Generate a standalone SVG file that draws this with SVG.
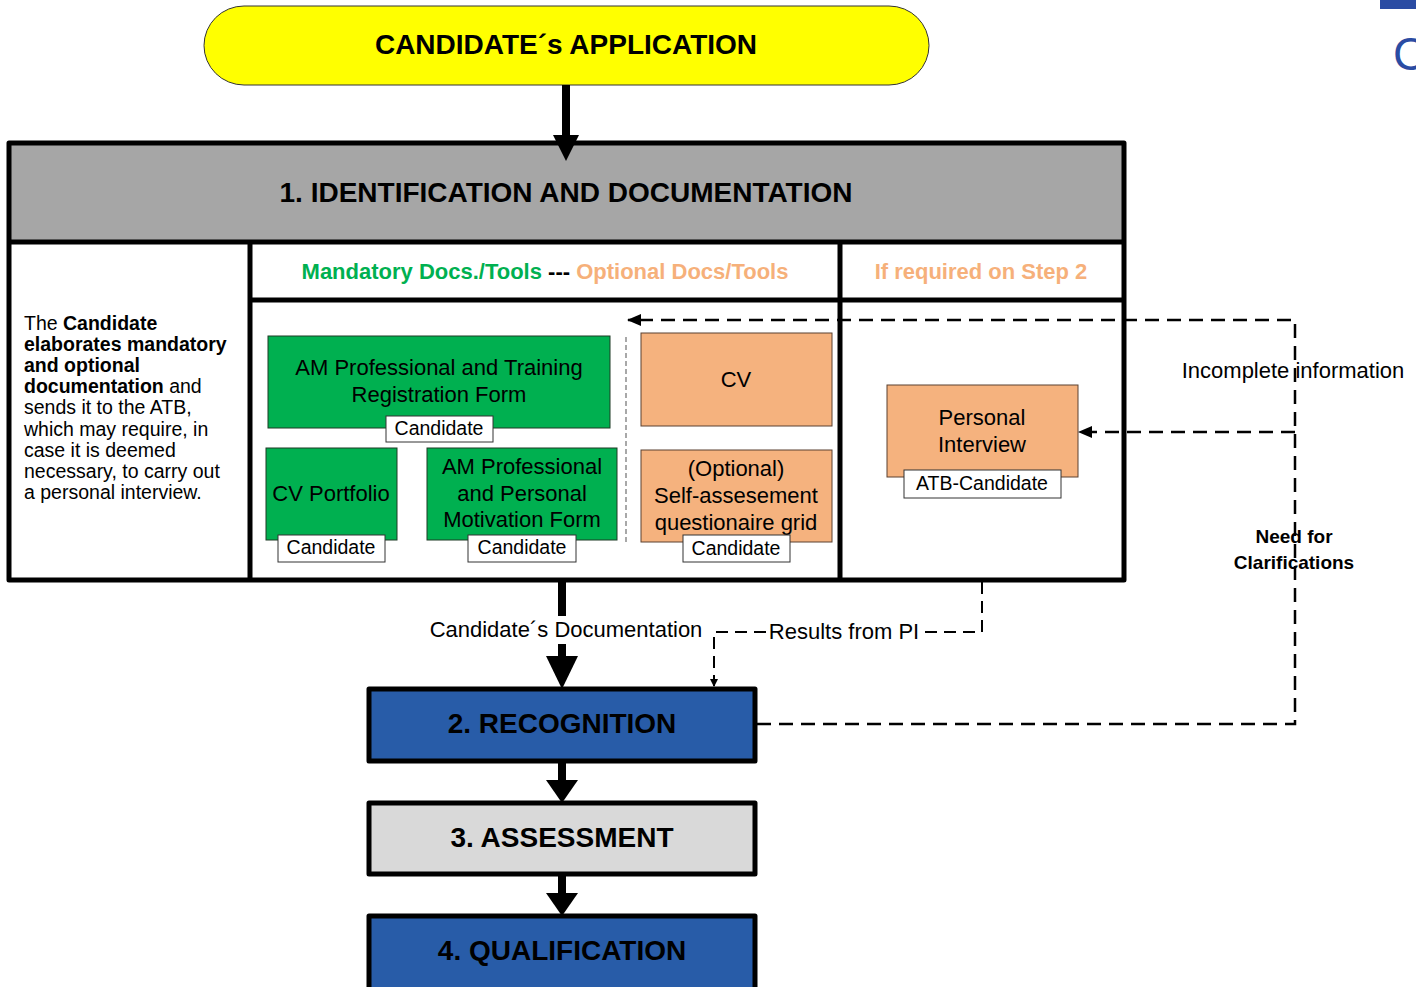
<svg xmlns="http://www.w3.org/2000/svg" width="1416" height="987" viewBox="0 0 1416 987">
  <style>
    text { font-family: "Liberation Sans", Arial, sans-serif; fill: #000; }
    .c { text-anchor: middle; }
    .b { font-weight: bold; }
    .title { font-size: 28px; font-weight: bold; text-anchor: middle; }
    .doc { font-size: 22px; text-anchor: middle; }
    .tag { font-size: 19.5px; text-anchor: middle; }
    .frame { fill: none; stroke: #000; stroke-width: 5; stroke-linejoin: round; }
    .green { fill: #00b050; stroke: #1c3b24; stroke-width: 1; }
    .orange { fill: #f5b27e; stroke: #5a4030; stroke-width: 1; }
    .tagbox { fill: #fff; stroke: #333; stroke-width: 1; }
    .thick { stroke: #000; stroke-width: 8; fill: none; }
    .dash { stroke: #000; stroke-width: 2.5; fill: none; stroke-dasharray: 14 8; }
    .dash2 { stroke: #000; stroke-width: 2; fill: none; stroke-dasharray: 12 7; }
  </style>
  <defs>
    <marker id="headSmall" markerWidth="8" markerHeight="8" refX="7" refY="4" orient="auto" markerUnits="userSpaceOnUse">
      <path d="M0,0 L8,4 L0,8 Z" fill="#000"/>
    </marker>
    <marker id="headMid" markerWidth="14" markerHeight="12" refX="13" refY="6" orient="auto" markerUnits="userSpaceOnUse">
      <path d="M0,0 L14,6 L0,12 Z" fill="#000"/>
    </marker>
  </defs>

  <rect width="1416" height="987" fill="#fff"/>

  <!-- page furniture at the top-right edge -->
  <rect x="1380" y="0" width="36" height="9" fill="#2b4ca3"/>
  <text x="1393" y="70" font-size="46" fill="#2b4ca3" style="fill:#2b4ca3">C</text>

  <!-- start node -->
  <g id="application">
    <rect x="204" y="6" width="725" height="79" rx="40" ry="40" fill="#ffff00" stroke="#333" stroke-width="1"/>
    <text class="title" x="566" y="54">CANDIDATE´s APPLICATION</text>
  </g>

  <!-- step 1 frame -->
  <g id="step1">
    <rect x="9" y="143" width="1115" height="99" fill="#a6a6a6"/>
    <rect x="9" y="242" width="1115" height="338" fill="#fff"/>
    <text class="title" x="566" y="202">1. IDENTIFICATION AND DOCUMENTATION</text>
    <rect class="frame" x="9" y="143" width="1115" height="437"/>
    <line x1="9" y1="242" x2="1124" y2="242" stroke="#000" stroke-width="5"/>
    <line x1="250" y1="242" x2="250" y2="580" stroke="#000" stroke-width="5"/>
    <line x1="840" y1="242" x2="840" y2="580" stroke="#000" stroke-width="5"/>
    <line x1="250" y1="300" x2="1124" y2="300" stroke="#000" stroke-width="5"/>
    <text x="545" y="279" font-size="22" class="c b"><tspan style="fill:#00b050">Mandatory Docs./Tools</tspan> --- <tspan style="fill:#f6b07a">Optional Docs/Tools</tspan></text>
    <text x="981" y="279" font-size="22" class="c b" style="fill:#f6b07a">If required on Step 2</text>
    <line x1="626" y1="337" x2="626" y2="543" stroke="#8c8c8c" stroke-width="1.5" stroke-dasharray="5 3"/>
  </g>

  <!-- explanation text -->
  <g id="step1-note" font-size="19.5">
    <text x="24" y="330">The <tspan class="b">Candidate</tspan></text>
    <text x="24" y="351" class="b">elaborates mandatory</text>
    <text x="24" y="372" class="b">and optional</text>
    <text x="24" y="393"><tspan class="b">documentation</tspan> and</text>
    <text x="24" y="414">sends it to the ATB,</text>
    <text x="24" y="436">which may require, in</text>
    <text x="24" y="457">case it is deemed</text>
    <text x="24" y="478">necessary, to carry out</text>
    <text x="24" y="499">a personal interview.</text>
  </g>

  <!-- mandatory documents -->
  <g id="doc-registration">
    <rect class="green" x="268" y="336" width="342" height="92"/>
    <text class="doc" x="439" y="375">AM Professional and Training</text>
    <text class="doc" x="439" y="402">Registration Form</text>
    <rect class="tagbox" x="386" y="416" width="107" height="26"/>
    <text class="tag" x="439" y="435">Candidate</text>
  </g>
  <g id="doc-portfolio">
    <rect class="green" x="266" y="448" width="131" height="92"/>
    <text class="doc" x="331" y="501">CV Portfolio</text>
    <rect class="tagbox" x="278" y="535" width="107" height="27"/>
    <text class="tag" x="331" y="554">Candidate</text>
  </g>
  <g id="doc-motivation">
    <rect class="green" x="427" y="448" width="190" height="92"/>
    <text class="doc" x="522" y="474">AM Professional</text>
    <text class="doc" x="522" y="501">and Personal</text>
    <text class="doc" x="522" y="527">Motivation Form</text>
    <rect class="tagbox" x="468" y="535" width="108" height="27"/>
    <text class="tag" x="522" y="554">Candidate</text>
  </g>

  <!-- optional documents -->
  <g id="doc-cv">
    <rect class="orange" x="641" y="333" width="191" height="93"/>
    <text class="doc" x="736" y="387">CV</text>
  </g>
  <g id="doc-selfassessment">
    <rect class="orange" x="641" y="450" width="191" height="92"/>
    <text class="doc" x="736" y="476">(Optional)</text>
    <text class="doc" x="736" y="503">Self-assesement</text>
    <text class="doc" x="736" y="530">questionaire grid</text>
    <rect class="tagbox" x="683" y="535" width="107" height="27"/>
    <text class="tag" x="736" y="555">Candidate</text>
  </g>

  <!-- interview -->
  <g id="personal-interview">
    <rect class="orange" x="887" y="385" width="191" height="92"/>
    <text class="doc" x="982" y="425">Personal</text>
    <text class="doc" x="982" y="452">Interview</text>
    <rect class="tagbox" x="904" y="470" width="157" height="28"/>
    <text class="tag" x="982" y="490">ATB-Candidate</text>
  </g>

  <!-- later steps -->
  <g id="recognition">
    <rect x="369" y="689" width="386" height="72" fill="#285ca8" stroke="#000" stroke-width="5" stroke-linejoin="round"/>
    <text class="title" x="562" y="733">2. RECOGNITION</text>
  </g>
  <g id="assessment">
    <rect x="369" y="803" width="386" height="71" fill="#d9d9d9" stroke="#000" stroke-width="5" stroke-linejoin="round"/>
    <text class="title" x="562" y="847">3. ASSESSMENT</text>
  </g>
  <g id="qualification">
    <rect x="369" y="916" width="386" height="80" fill="#285ca8" stroke="#000" stroke-width="5" stroke-linejoin="round"/>
    <text class="title" x="562" y="960">4. QUALIFICATION</text>
  </g>

  <!-- connectors -->
  <g id="connectors">
    <!-- application to step 1 -->
    <line class="thick" x1="566" y1="85" x2="566" y2="138" stroke-width="7"/>
    <path d="M553,135 L579,135 L566,161 Z" fill="#000"/>

    <!-- documentation to recognition -->
    <line class="thick" x1="562" y1="580" x2="562" y2="616" stroke-width="9"/>
    <line class="thick" x1="562" y1="644" x2="562" y2="658" stroke-width="9"/>
    <path d="M546,656 L578,656 L562,689 Z" fill="#000"/>

    <!-- recognition to assessment -->
    <line class="thick" x1="562" y1="761" x2="562" y2="782" stroke-width="9"/>
    <path d="M546,780 L578,780 L562,803 Z" fill="#000"/>

    <!-- assessment to qualification -->
    <line class="thick" x1="562" y1="874" x2="562" y2="895" stroke-width="9"/>
    <path d="M546,893 L578,893 L562,916 Z" fill="#000"/>

    <!-- interview results -->
    <path class="dash2" d="M982,582 V632 H922"/>
    <path class="dash2" d="M766,632 H714 V686" marker-end="url(#headSmall)"/>

    <!-- clarification loop -->
    <path class="dash" d="M757,724 H1295 V320 H628" marker-end="url(#headMid)"/>
    <path class="dash" d="M1295,432 H1079" marker-end="url(#headMid)"/>
  </g>

  <!-- connector labels -->
  <g id="connector-labels">
    <text x="566" y="637" font-size="22" class="c">Candidate´s Documentation</text>
    <text x="844" y="639" font-size="22" class="c">Results from PI</text>
    <text x="1293" y="378" font-size="22" class="c">Incomplete information</text>
    <text x="1294" y="543" font-size="19" class="c b">Need for</text>
    <text x="1294" y="569" font-size="19" class="c b">Clarifications</text>
  </g>
</svg>
